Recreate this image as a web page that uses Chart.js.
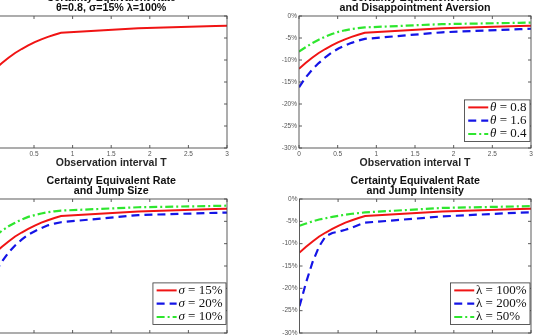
<!DOCTYPE html>
<html>
<head>
<meta charset="utf-8">
<script src="https://cdn.jsdelivr.net/npm/chart.js@4.4.1/dist/chart.umd.min.js"></script>
<style>
html,body{margin:0;padding:0;background:#fff;overflow:hidden;width:533px;height:336px;position:relative}
canvas{position:absolute}
</style>
</head>
<body>
<canvas id="baseChart" width="283" height="179" style="left:-46px;top:-10px;width:283px;height:179px"></canvas>
<canvas id="thetaChart" width="283" height="179" style="left:258px;top:-10px;width:283px;height:179px"></canvas>
<canvas id="sigmaChart" width="283" height="184" style="left:-46px;top:170px;width:283px;height:184px"></canvas>
<canvas id="lambdaChart" width="283" height="184" style="left:258px;top:170px;width:283px;height:184px"></canvas>
<script>

// =========================
// DATA (rate in %)
// =========================

const obsT = [0, 0.085, 0.17, 0.255, 0.34, 0.425, 0.51, 0.595, 0.68, 0.765, 0.85, 1.85, 2.85, 3];

const baseRate = [-12.0, -10.7, -9.5, -8.4, -7.5, -6.7, -5.95, -5.3, -4.75, -4.25, -3.8, -2.8, -2.25, -2.2];

const theta16Rate = [-16.2, -14.0, -12.2, -10.7, -9.4, -8.3, -7.4, -6.7, -6.1, -5.6, -5.2, -3.7, -3.0, -2.9];
const theta04Rate = [-8.1, -7.1, -6.2, -5.4, -4.7, -4.1, -3.6, -3.25, -2.95, -2.75, -2.6, -1.85, -1.55, -1.5];

const sigma20Rate = [-16.3, -14.0, -12.0, -10.4, -9.1, -8.0, -7.2, -6.5, -5.9, -5.5, -5.2, -3.6, -3.1, -3.05];
const sigma10Rate = [-8.3, -7.1, -6.1, -5.3, -4.6, -4.0, -3.6, -3.25, -2.95, -2.75, -2.6, -1.85, -1.55, -1.5];

const lambda200Rate = [-24.0, -18.7, -14.1, -10.6, -8.3, -7.6, -7.3, -6.9, -6.4, -5.8, -5.3, -3.9, -3.05, -3.0];
const lambda50Rate = [-6.0, -5.5, -5.0, -4.6, -4.3, -4.0, -3.75, -3.5, -3.3, -3.15, -3.0, -2.0, -1.65, -1.6];

const thetaLabels = ["θ = 0.8", "θ = 1.6", "θ = 0.4"];
const sigmaLabels = ["σ = 15%", "σ = 20%", "σ = 10%"];
const lambdaLabels = ["λ = 100%", "λ = 200%", "λ = 50%"];

const xTickStep = 0.5;
const yTickStep = 5;

// =========================
// STYLES
// =========================

Chart.defaults.font.family = "'Liberation Sans', Arial, sans-serif";

const RED = "#f01414";
const BLUE = "#1414e6";
const GREEN = "#2ee62e";

const lineStyles = [
    { color: RED, dash: [], width: 2 },
    { color: BLUE, dash: [8, 5], width: 2.2 },
    { color: GREEN, dash: [8, 3, 2, 3], width: 2.2 }
];

// matlab style box with inward ticks
const axesBox = {
    id: "axesBox",
    afterDatasetsDraw(chart) {
        const { ctx, chartArea: a, scales } = chart;
        ctx.save();
        ctx.strokeStyle = "#4a4a4a";
        ctx.lineWidth = 0.9;
        ctx.strokeRect(a.left, a.top, a.right - a.left, a.bottom - a.top);
        ctx.beginPath();
        scales.x.ticks.forEach(t => {
            const px = scales.x.getPixelForValue(t.value);
            ctx.moveTo(px, a.bottom); ctx.lineTo(px, a.bottom - 3);
            ctx.moveTo(px, a.top); ctx.lineTo(px, a.top + 3);
        });
        scales.y.ticks.forEach(t => {
            const py = scales.y.getPixelForValue(t.value);
            ctx.moveTo(a.left, py); ctx.lineTo(a.left + 3, py);
            ctx.moveTo(a.right, py); ctx.lineTo(a.right - 3, py);
        });
        ctx.stroke();
        ctx.restore();
    }
};

// legend box in the lower right corner of the axes
const boxLegend = {
    id: "boxLegend",
    afterDatasetsDraw(chart, args, opts) {
        if (!opts.show) return;
        const { ctx, chartArea: a } = chart;
        const sets = chart.data.datasets;
        const fam = "'Liberation Serif', 'Times New Roman', serif";
        const size = 13;
        const rowH = 13.3;
        const symFont = (opts.italic ? "italic " : "") + size + "px " + fam;
        const txtFont = size + "px " + fam;

        ctx.save();
        const parts = sets.map(ds => [ds.label.slice(0, 1), ds.label.slice(1)]);
        const widths = parts.map(p => {
            ctx.font = symFont;
            const w1 = ctx.measureText(p[0]).width;
            ctx.font = txtFont;
            return w1 + ctx.measureText(p[1]).width;
        });
        const w = 3.7 + 20 + 1.8 + Math.max(...widths) + 3.5;
        const h = 15 + rowH * (sets.length - 1);
        const right = a.right - 1;
        const bottom = a.bottom - opts.inset;
        const left = right - w;
        const top = bottom - h;

        ctx.fillStyle = "#fff";
        ctx.fillRect(left, top, w, h);
        ctx.strokeStyle = "#333";
        ctx.lineWidth = 0.8;
        ctx.strokeRect(left, top, w, h);

        sets.forEach((ds, i) => {
            const y = top + 7.5 + i * rowH;
            ctx.strokeStyle = ds.borderColor;
            ctx.lineWidth = ds.borderWidth;
            ctx.setLineDash(ds.borderDash || []);
            ctx.beginPath();
            ctx.moveTo(left + 3.7, y);
            ctx.lineTo(left + 23.7, y);
            ctx.stroke();
            ctx.setLineDash([]);

            ctx.fillStyle = "#111";
            ctx.textBaseline = "middle";
            ctx.textAlign = "left";
            let x = left + 25.5;
            ctx.font = symFont;
            ctx.fillText(parts[i][0], x, y);
            x += ctx.measureText(parts[i][0]).width;
            ctx.font = txtFont;
            ctx.fillText(parts[i][1], x, y);
        });
        ctx.restore();
    }
};

// =========================
// PANEL BUILDER
// =========================

function makePanel(id, titleLines, seriesList, labels, pad, legendOpts) {

    const datasets = seriesList.map((vals, i) => ({
        label: labels ? labels[i] : "",
        data: obsT.map((t, k) => ({ x: t, y: vals[k] })),
        borderColor: lineStyles[i].color,
        borderWidth: lineStyles[i].width,
        borderDash: lineStyles[i].dash,
        pointRadius: 0,
        tension: 0,
        fill: false
    }));

    new Chart(document.getElementById(id), {

        type: "line",

        data: { datasets: datasets },

        options: {
            responsive: false,
            devicePixelRatio: 1,
            animation: false,
            layout: {
                padding: { left: pad.left, right: 10, top: pad.top, bottom: 0 }
            },
            plugins: {
                legend: { display: false },
                tooltip: { enabled: false },
                title: {
                    display: true,
                    fullSize: false,
                    text: titleLines,
                    color: "#111",
                    font: { size: 10.7, weight: "bold", lineHeight: 1 },
                    padding: { top: 0, bottom: 2.3 }
                },
                boxLegend: legendOpts
            },
            scales: {
                x: {
                    type: "linear",
                    min: 0,
                    max: 3,
                    afterFit: s => { s.height = 21; },
                    grid: { display: false, drawTicks: false },
                    border: { display: false },
                    ticks: {
                        stepSize: xTickStep,
                        padding: 2.4,
                        color: "#555",
                        maxRotation: 0,
                        autoSkip: false,
                        font: { size: 6.5 },
                        callback: v => String(v)
                    },
                    title: {
                        display: true,
                        text: "Observation interval T",
                        color: "#262626",
                        font: { size: 10.5, weight: "bold", lineHeight: 1 },
                        padding: { top: 0, bottom: 0.5 }
                    }
                },
                y: {
                    min: -30,
                    max: 0,
                    afterFit: s => { s.width = 41; },
                    grid: { display: false, drawTicks: false },
                    border: { display: false },
                    ticks: {
                        stepSize: yTickStep,
                        padding: 2,
                        color: "#555",
                        font: { size: 6.5 },
                        callback: v => v + "%"
                    }
                }
            }
        },

        plugins: [axesBox, boxLegend]
    });
}

// =========================
// PANELS
// =========================

makePanel("baseChart",
    ["Certainty Equivalent Rate", "θ=0.8, σ=15% λ=100%"],
    [baseRate], null,
    { left: 0.4, top: 2.3 },
    { show: false });

makePanel("thetaChart",
    ["Certainty Equivalent Rate", "and Disappointment Aversion"],
    [baseRate, theta16Rate, theta04Rate], thetaLabels,
    { left: 0, top: 2.3 },
    { show: true, italic: true, inset: 6.5 });

makePanel("sigmaChart",
    ["Certainty Equivalent Rate", "and Jump Size"],
    [baseRate, sigma20Rate, sigma10Rate], sigmaLabels,
    { left: 0.4, top: 5.3 },
    { show: true, italic: true, inset: 8.5 });

makePanel("lambdaChart",
    ["Certainty Equivalent Rate", "and Jump Intensity"],
    [baseRate, lambda200Rate, lambda50Rate], lambdaLabels,
    { left: 0.5, top: 5.3 },
    { show: true, italic: false, inset: 8.5 });

</script>
</body>
</html>
